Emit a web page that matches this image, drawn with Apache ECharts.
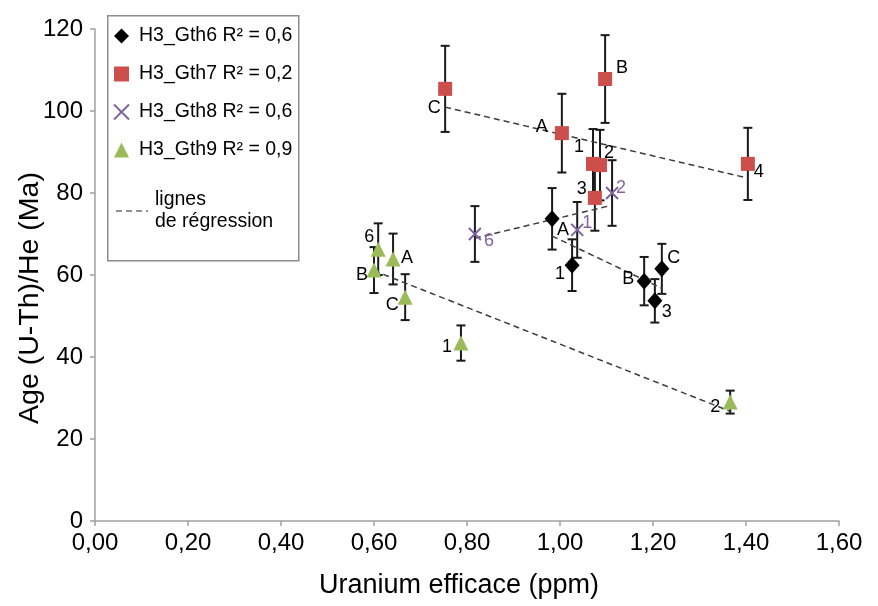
<!DOCTYPE html>
<html><head><meta charset="utf-8">
<script src="https://cdn.jsdelivr.net/npm/echarts@6/dist/echarts.min.js"></script>
<style>html,body{margin:0;padding:0;background:#fff}#c{width:878px;height:606px}</style>
</head><body><div id="c"></div>
<script>
// ---- data ----
const seriesNames = ['H3_Gth6 R² = 0,6', 'H3_Gth7 R² = 0,2', 'H3_Gth8 R² = 0,6', 'H3_Gth9 R² = 0,9'];
const regressionName = 'lignes de régression';
const xTicks = [0, 0.2, 0.4, 0.6, 0.8, 1.0, 1.2, 1.4, 1.6];
const yTicks = [0, 20, 40, 60, 80, 100, 120];

const gth6Labels = ['A', '1', 'B', 'C', '3'];
const gth6X = [0.983, 1.026, 1.181, 1.219, 1.204];
const gth6Y = [73.7, 62.4, 58.5, 61.5, 53.7];
const gth6Err = [7.5, 6.3, 5.9, 6.1, 5.3];

const gth7Labels = ['C', 'A', 'B', '1', '2', '3', '4'];
const gth7X = [0.753, 1.004, 1.097, 1.071, 1.086, 1.075, 1.404];
const gth7Y = [105.4, 94.6, 107.8, 87.1, 86.8, 78.8, 87.1];
const gth7Err = [10.5, 9.6, 10.7, 8.5, 8.6, 8.0, 8.8];

const gth8Labels = ['6', '1', '2'];
const gth8X = [0.817, 1.037, 1.112];
const gth8Y = [70.0, 71.0, 80.0];
const gth8Err = [6.8, 6.8, 8.0];

const gth9Labels = ['6', 'A', 'B', 'C', '1', '2'];
const gth9X = [0.609, 0.641, 0.600, 0.667, 0.787, 1.366];
const gth9Y = [66.3, 63.9, 61.2, 54.6, 43.4, 29.0];
const gth9Err = [6.3, 6.2, 5.6, 5.6, 4.3, 2.8];

// ---- styles (label offsets in px relative to marker centre) ----
const gth6Off = [[11,11],[-12,9],[-16,-2],[12,-11],[12,11]];
const gth7Off = [[-11,19],[-20,-6],[17,-11],[-14,-17],[9,-12],[-13,-9],[11,8]];
const gth8Off = [[14,7],[10,-7],[9,-5]];
const gth9Off = [[-9,-12],[14,-1],[-12,5],[-13,8],[-14,4],[-15,5]];

const FONT = "'Liberation Sans', Arial, sans-serif";
const groups = [
  {x: gth6X, y: gth6Y, e: gth6Err, l: gth6Labels, o: gth6Off, symbol: 'diamond', size: [15, 17], color: '#000000', lblColor: '#000'},
  {x: gth7X, y: gth7Y, e: gth7Err, l: gth7Labels, o: gth7Off, symbol: 'rect', size: 14, color: '#cc4f4b', lblColor: '#000'},
  {x: gth8X, y: gth8Y, e: gth8Err, l: gth8Labels, o: gth8Off, symbol: 'path://M0,0L10,10M10,0L0,10', size: 12, color: '#8064a2', lblColor: '#8064a2', cross: true},
  {x: gth9X, y: gth9Y, e: gth9Err, l: gth9Labels, o: gth9Off, symbol: 'triangle', size: 15, color: '#9bbb59', lblColor: '#000'}
];

function regression(xs, ys) {
  const n = xs.length;
  const mx = xs.reduce((a, b) => a + b, 0) / n;
  const my = ys.reduce((a, b) => a + b, 0) / n;
  let sxy = 0, sxx = 0;
  for (let i = 0; i < n; i++) { sxy += (xs[i] - mx) * (ys[i] - my); sxx += (xs[i] - mx) ** 2; }
  const b = sxy / sxx, a = my - b * mx;
  const x0 = Math.min(...xs), x1 = Math.max(...xs);
  return [[x0, a + b * x0], [x1, a + b * x1]];
}

const series = [];
// error bars
const errData = [];
groups.forEach(g => g.x.forEach((x, i) => errData.push([x, g.y[i] - g.e[i], g.y[i] + g.e[i]])));
series.push({
  type: 'custom', name: 'err', z: 2, silent: true,
  encode: {x: 0, y: [1, 2]},
  data: errData,
  renderItem: function (params, api) {
    const x = api.value(0);
    const p1 = api.coord([x, api.value(1)]), p2 = api.coord([x, api.value(2)]);
    const w = 4.5, st = {stroke: '#1a1a1a', lineWidth: 2};
    return {type: 'group', children: [
      {type: 'line', shape: {x1: p1[0], y1: p1[1], x2: p2[0], y2: p2[1]}, style: st},
      {type: 'line', shape: {x1: p1[0] - w, y1: p1[1], x2: p1[0] + w, y2: p1[1]}, style: st},
      {type: 'line', shape: {x1: p2[0] - w, y1: p2[1], x2: p2[0] + w, y2: p2[1]}, style: st}
    ]};
  }
});
// regression lines
groups.forEach(g => series.push({
  type: 'line', name: regressionName, data: regression(g.x, g.y), symbol: 'none', z: 3, silent: true,
  lineStyle: {type: [6, 4], color: '#3c3c3c', width: 1.5}, itemStyle: {color: '#3c3c3c'}
}));
// scatter
groups.forEach((g, k) => series.push({
  type: 'scatter', name: seriesNames[k], symbol: g.symbol, symbolSize: g.size, z: 5,
  itemStyle: g.cross ? {color: g.color, borderColor: g.color, borderWidth: 2, opacity: 1} : {color: g.color, opacity: 1},
  label: {show: true, position: 'inside', formatter: '{b}', fontSize: 18, fontFamily: FONT, color: g.lblColor},
  data: g.x.map((x, i) => ({name: g.l[i], value: [x, g.y[i]], label: {offset: g.o[i]}}))
}));

const axisCol = '#a0a0a0';
const chart = echarts.init(document.getElementById('c'));
chart.setOption({
  animation: false,
  backgroundColor: '#fff',
  grid: {left: 95, right: 39, top: 29, bottom: 85, containLabel: false, outerBoundsMode: 'none'},
  xAxis: {
    type: 'value', min: xTicks[0], max: xTicks[xTicks.length - 1], interval: xTicks[1] - xTicks[0],
    axisLine: {show: true, lineStyle: {color: axisCol, width: 1.5}},
    axisTick: {show: true, length: 5, lineStyle: {color: axisCol, width: 1.5}},
    splitLine: {show: false},
    axisLabel: {fontSize: 24, color: '#000', fontFamily: FONT, margin: 10, formatter: v => v.toFixed(2).replace('.', ',')},
    name: 'Uranium efficace (ppm)', nameLocation: 'middle', nameGap: 51, nameMoveOverlap: false,
    nameTextStyle: {fontSize: 27, color: '#000', fontFamily: FONT, padding: [0, 16, 0, 0]}
  },
  yAxis: {
    type: 'value', min: yTicks[0], max: yTicks[yTicks.length - 1], interval: yTicks[1] - yTicks[0],
    axisLine: {show: true, lineStyle: {color: axisCol, width: 1.5}},
    axisTick: {show: true, length: 5, lineStyle: {color: axisCol, width: 1.5}},
    splitLine: {show: false},
    axisLabel: {fontSize: 24, color: '#000', fontFamily: FONT, margin: 12},
    name: 'Age (U-Th)/He (Ma)', nameLocation: 'middle', nameGap: 50, nameMoveOverlap: false,
    nameTextStyle: {fontSize: 28.5, color: '#000', fontFamily: FONT, padding: [0, 46, 0, 0]}
  },
  graphic: [
    {type: 'rect', left: 107, top: 15, shape: {width: 191, height: 245}, style: {fill: '#fff', stroke: '#8c8c8c', lineWidth: 1.5}, z: 1},
    {type: 'line', shape: {x1: 116, y1: 211, x2: 148, y2: 211}, style: {stroke: '#6e6e6e', lineWidth: 1.5, lineDash: [6, 4]}, z: 11}
  ],
  legend: [
    {orient: 'vertical', left: 113, top: 26, padding: 0, itemGap: 18, itemWidth: 15, itemHeight: 15, selectedMode: false, z: 10,
     textStyle: {fontSize: 19.5, lineHeight: 20, color: '#000', fontFamily: FONT, padding: [0, 0, 0, 5]},
     data: seriesNames},
    {orient: 'vertical', left: 114, top: 189, padding: 0, itemWidth: 33, itemHeight: 14, selectedMode: false, z: 10,
     textStyle: {fontSize: 19.5, lineHeight: 22, color: '#000', fontFamily: FONT, padding: [0, 0, 0, 3]},
     formatter: () => 'lignes\nde régression',
     data: [{name: regressionName, icon: 'none'}]}
  ],
  series: series
});
</script></body></html>
